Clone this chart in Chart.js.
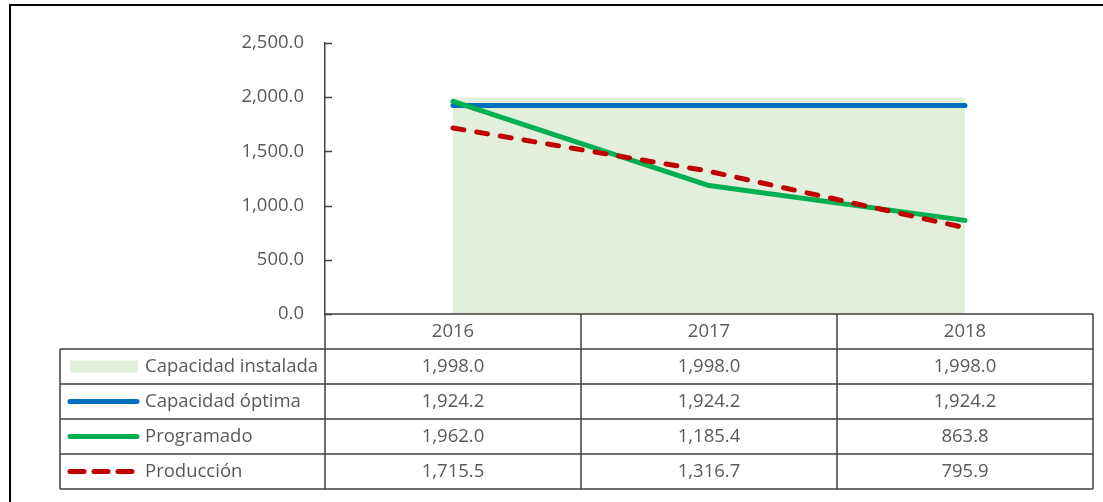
<!DOCTYPE html>
<html>
<head>
<meta charset="utf-8">
<script src="https://cdn.jsdelivr.net/npm/chart.js@4.4.0/dist/chart.umd.min.js"></script>
<style>
  html, body { margin: 0; padding: 0; background: #fff; }
  #wrap { position: relative; width: 1103px; height: 502px; overflow: hidden; }
  #frame { position: absolute; left: 9px; top: 4px; width: 1200px; height: 600px;
           border-left: 2px solid #000; border-top: 2px solid #000; pointer-events: none; }
  canvas { position: absolute; left: 0; top: 0; }
</style>
</head>
<body>
<div id="wrap">
  <canvas id="capChart" width="1103" height="502"></canvas>
  <div id="frame"></div>
</div>
<script>
// --- DATA ---
const years = ['2016', '2017', '2018'];
const capacidadInstalada = [1998.0, 1998.0, 1998.0];
const capacidadOptima = [1924.2, 1924.2, 1924.2];
const programado = [1962.0, 1185.4, 863.8];
const produccion = [1715.5, 1316.7, 795.9];
const yTicks = [0, 500, 1000, 1500, 2000, 2500];

const TEXT = '#595959';
const LINE = '#404040';
const FONT = '"Open Sans", sans-serif';
const FONT_SIZE = 18.5;

const fmt = v => v.toLocaleString('en-US', { minimumFractionDigits: 1, maximumFractionDigits: 1 });

// Tabla de datos debajo del gráfico (estilo Excel)
const dataTablePlugin = {
  id: 'dataTable',
  afterDraw(chart) {
    const { ctx, chartArea, scales } = chart;
    const yScale = scales.y;
    const left = chartArea.left, right = chartArea.right;
    const colW = (right - left) / years.length;
    const top = chartArea.bottom;
    const rowH = 35;
    const tableLeft = 60;
    const rows = chart.data.datasets;
    const bottom = top + rowH * (rows.length + 1);

    ctx.save();

    // marcas de graduación hacia dentro
    ctx.strokeStyle = LINE;
    ctx.lineWidth = 1.5;
    yTicks.forEach(v => {
      const py = Math.round(yScale.getPixelForValue(v)) + 0.5;
      ctx.beginPath();
      ctx.moveTo(left, py);
      ctx.lineTo(left + 7, py);
      ctx.stroke();
    });

    // líneas de la tabla
    ctx.beginPath();
    ctx.moveTo(left, top); ctx.lineTo(right, top);
    for (let r = 1; r <= rows.length + 1; r++) {
      const py = top + r * rowH;
      ctx.moveTo(tableLeft, py); ctx.lineTo(right, py);
    }
    ctx.moveTo(tableLeft, top + rowH); ctx.lineTo(tableLeft, bottom);
    for (let c = 0; c <= years.length; c++) {
      const px = left + c * colW;
      ctx.moveTo(px, top); ctx.lineTo(px, bottom);
    }
    ctx.stroke();

    // encabezado
    ctx.font = `${FONT_SIZE}px ${FONT}`;
    ctx.fillStyle = TEXT;
    ctx.textAlign = 'center';
    ctx.textBaseline = 'middle';
    years.forEach((yr, i) => {
      ctx.fillText(yr, left + colW * (i + 0.5), top + rowH / 2);
    });

    // filas
    rows.forEach((ds, r) => {
      const cy = top + rowH * (r + 1) + rowH / 2;
      // clave de leyenda
      ctx.save();
      if (ds.fill) {
        ctx.fillStyle = ds.backgroundColor;
        ctx.fillRect(70, cy - 6, 68, 12);
      } else {
        ctx.strokeStyle = ds.borderColor;
        ctx.lineWidth = 5;
        ctx.lineCap = 'round';
        if (ds.borderDash) ctx.setLineDash([14, 10]);
        ctx.beginPath();
        ctx.moveTo(70, cy);
        ctx.lineTo(137, cy);
        ctx.stroke();
      }
      ctx.restore();

      ctx.fillStyle = TEXT;
      ctx.textAlign = 'left';
      ctx.fillText(ds.label, 145, cy);
      ctx.textAlign = 'center';
      ds.data.forEach((v, i) => {
        ctx.fillText(fmt(v), left + colW * (i + 0.5), cy);
      });
    });

    ctx.restore();
  }
};

const ctx = document.getElementById('capChart').getContext('2d');
new Chart(ctx, {
  type: 'line',
  data: {
    labels: years,
    datasets: [
      {
        label: 'Capacidad instalada',
        data: capacidadInstalada,
        fill: 'origin',
        backgroundColor: '#E2EFDA',
        borderWidth: 0,
        pointRadius: 0,
        order: 3
      },
      {
        label: 'Capacidad óptima',
        data: capacidadOptima,
        fill: false,
        borderColor: '#0070C0',
        borderWidth: 5,
        borderCapStyle: 'round',
        pointRadius: 0,
        order: 2
      },
      {
        label: 'Programado',
        data: programado,
        fill: false,
        borderColor: '#00B050',
        borderWidth: 5,
        borderCapStyle: 'round',
        borderJoinStyle: 'round',
        pointRadius: 0,
        order: 1
      },
      {
        label: 'Producción',
        data: produccion,
        fill: false,
        borderColor: '#C00000',
        borderWidth: 5,
        borderCapStyle: 'round',
        borderDash: [11, 13],
        pointRadius: 0,
        order: 0
      }
    ]
  },
  options: {
    responsive: false,
    animation: false,
    layout: { padding: { left: 0, right: 10, top: 43, bottom: 188 } },
    plugins: {
      legend: { display: false },
      tooltip: { enabled: false }
    },
    scales: {
      x: {
        display: false,
        offset: true
      },
      y: {
        min: 0,
        max: 2500,
        afterFit: scale => { scale.width = 325; },
        afterBuildTicks: scale => { scale.ticks = yTicks.map(v => ({ value: v })); },
        ticks: {
          color: TEXT,
          padding: 21,
          font: { family: FONT, size: FONT_SIZE },
          callback: v => fmt(v)
        },
        grid: { drawOnChartArea: false, drawTicks: false },
        border: { display: true, color: LINE, width: 1.5 }
      }
    }
  },
  plugins: [dataTablePlugin]
});
</script>
</body>
</html>
